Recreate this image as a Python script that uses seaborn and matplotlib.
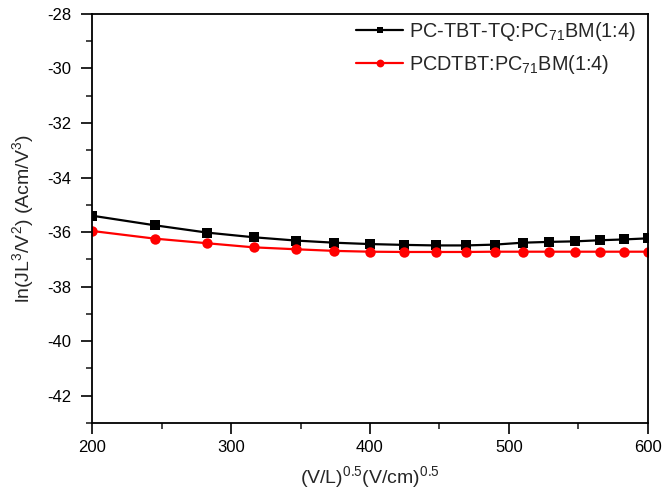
import matplotlib
matplotlib.use("Agg")
import matplotlib.pyplot as plt
import seaborn as sns
import pandas as pd
from matplotlib.ticker import MultipleLocator

# Data
x_vals = [200.0, 244.9, 282.8, 316.2, 346.4, 374.2, 400.0, 424.3, 447.2,
          469.0, 489.9, 509.9, 529.2, 547.7, 565.7, 583.1, 600.0]
pctbt_tq = [-35.40, -35.75, -36.02, -36.19, -36.31, -36.39, -36.44, -36.47, -36.49,
            -36.49, -36.46, -36.39, -36.36, -36.34, -36.30, -36.27, -36.23]
pcdtbt = [-35.96, -36.24, -36.41, -36.56, -36.63, -36.69, -36.72, -36.73, -36.73,
          -36.73, -36.72, -36.72, -36.72, -36.72, -36.72, -36.72, -36.72]
labels = ["PC-TBT-TQ:PC$_{71}$BM(1:4)", "PCDTBT:PC$_{71}$BM(1:4)"]
colors = ["black", "red"]
markers = ["s", "o"]

df = pd.DataFrame({
    "x": x_vals * 2,
    "y": pctbt_tq + pcdtbt,
    "series": [labels[0]] * len(x_vals) + [labels[1]] * len(x_vals),
})

sns.set_style("ticks")
plt.rcParams["font.family"] = ["Liberation Sans", "DejaVu Sans"]
plt.rcParams["mathtext.default"] = "regular"
plt.rcParams["axes.unicode_minus"] = False

fig = plt.figure(figsize=(6.63, 4.97), dpi=100)
ax = fig.add_axes([0.139, 0.149, 0.838, 0.823])

sns.lineplot(data=df[df["series"] == labels[0]], x="x", y="y", color=colors[0],
             marker=markers[0], markersize=6.5, markeredgewidth=0, linewidth=1.6,
             label=labels[0], ax=ax)
sns.lineplot(data=df[df["series"] == labels[1]], x="x", y="y", color=colors[1],
             marker=markers[1], markersize=7.5, markeredgewidth=0, linewidth=1.6,
             label=labels[1], ax=ax)

ax.set_xlim(200, 600)
ax.set_ylim(-43, -28)
ax.xaxis.set_major_locator(MultipleLocator(100))
ax.xaxis.set_minor_locator(MultipleLocator(50))
ax.yaxis.set_major_locator(MultipleLocator(2))
ax.yaxis.set_minor_locator(MultipleLocator(1))
ax.tick_params(which="major", direction="out", length=8, width=1.2, labelsize=12,
               colors="black")
ax.tick_params(axis="x", which="major", pad=4)
ax.tick_params(axis="y", which="major", pad=7)
ax.tick_params(which="minor", direction="out", length=4.5, width=1.2)
for s in ax.spines.values():
    s.set_visible(True)
    s.set_linewidth(1.3)
    s.set_color("black")

ax.set_xlabel("(V/L)$^{0.5}$(V/cm)$^{0.5}$", fontsize=14, labelpad=6.5)
ax.set_ylabel("ln(JL$^3$/V$^2$) (Acm/V$^3$)", fontsize=14, labelpad=8)

leg = ax.legend(loc="upper right", bbox_to_anchor=(0.99, 1.0), frameon=False,
                fontsize=14.3, markerscale=0.75,
                handlelength=2.4, handletextpad=0.3, labelspacing=0.5,
                borderaxespad=0.0, borderpad=0.3)

fig.savefig("out.png", dpi=100)
